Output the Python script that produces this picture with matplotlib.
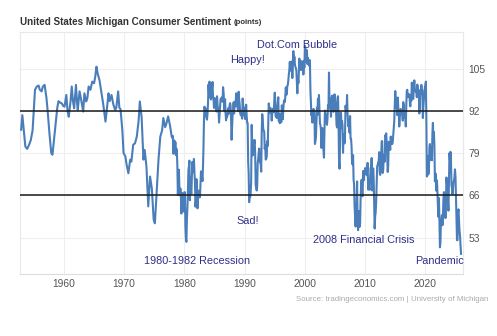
import numpy as np
import matplotlib
matplotlib.use("Agg")
import matplotlib.pyplot as plt

plt.rcParams['font.family'] = ['Liberation Sans', 'DejaVu Sans']

# quarterly readings before 1978 (fractional year, index points)
early_t = [1952.9, 1953.1, 1953.4, 1953.6, 1953.9, 1954.2, 1954.5, 1954.8, 1955.0, 1955.2,
           1955.5, 1955.8, 1956.0, 1956.3, 1956.5, 1956.8, 1957.1, 1957.3, 1957.6, 1957.9,
           1958.1, 1958.4, 1958.6, 1958.9, 1959.1, 1959.4, 1959.6, 1959.9, 1960.1, 1960.4,
           1960.6, 1960.8, 1961.1, 1961.3, 1961.5, 1961.7, 1962.0, 1962.2, 1962.3, 1962.6,
           1962.9, 1963.2, 1963.4, 1963.7, 1963.9, 1964.1, 1964.4, 1964.7, 1965.0, 1965.2,
           1965.4, 1965.6, 1965.9, 1966.2, 1966.5, 1966.9, 1967.1, 1967.4, 1967.6, 1967.9,
           1968.2, 1968.5, 1968.7, 1969.0, 1969.2, 1969.4, 1969.7, 1969.9, 1970.2, 1970.4,
           1970.7, 1971.0, 1971.2, 1971.5, 1971.8, 1972.1, 1972.4, 1972.6, 1972.9, 1973.2,
           1973.4, 1973.7, 1974.0, 1974.3, 1974.6, 1974.9, 1975.1, 1975.4, 1975.7, 1976.0,
           1976.3, 1976.5, 1976.8, 1977.0, 1977.3, 1977.6, 1977.9]
early_v = [86.2, 90.7, 85.0, 81.0, 80.3, 81.5, 83.0, 86.0, 92.0, 98.5,
           99.5, 99.8, 98.5, 98.0, 99.5, 100.0, 96.0, 92.0, 85.0, 79.0,
           78.5, 84.0, 88.0, 93.0, 95.0, 94.5, 94.4, 93.5, 93.3, 96.9,
           92.0, 90.2, 95.0, 99.5, 95.0, 92.8, 100.0, 94.0, 92.3, 98.0,
           95.0, 91.8, 97.4, 94.9, 96.0, 99.5, 98.5, 101.0, 100.5, 102.5,
           105.6, 103.5, 101.5, 98.0, 94.4, 88.7, 92.0, 97.4, 95.0, 96.9,
           94.0, 92.3, 93.0, 98.0, 93.0, 92.5, 86.0, 79.0, 78.0, 75.5,
           72.8, 77.0, 76.4, 81.6, 82.0, 84.1, 89.0, 94.9, 90.0, 77.0,
           80.0, 74.9, 62.6, 71.8, 68.0, 58.5, 57.4, 67.0, 77.0, 84.1,
           86.0, 89.8, 87.0, 88.0, 90.3, 87.6, 84.0]

# monthly readings from Jan 1978
m_1978_1989 = [83.7, 84.3, 78.8, 81.6, 82.9, 80.0, 82.4, 78.4, 80.4, 79.3, 75.0, 66.1,
               72.1, 73.9, 68.4, 66.0, 68.1, 65.8, 60.4, 64.5, 66.7, 62.1, 63.3, 61.0,
               67.0, 66.9, 56.5, 52.7, 51.7, 58.7, 62.3, 67.3, 73.7, 75.0, 76.7, 64.5,
               71.4, 66.9, 66.5, 72.4, 76.3, 73.1, 74.1, 77.2, 73.1, 70.3, 62.5, 64.3,
               71.0, 66.5, 62.0, 65.5, 67.5, 65.7, 65.4, 65.4, 69.3, 73.4, 72.1, 71.9,
               70.4, 74.6, 80.8, 89.1, 93.3, 92.2, 92.8, 90.9, 89.9, 89.3, 91.1, 94.2,
               100.1, 97.4, 101.0, 96.1, 98.1, 95.5, 96.6, 99.1, 100.9, 96.3, 95.7, 92.9,
               96.0, 93.7, 93.7, 94.6, 91.8, 96.5, 94.0, 92.4, 92.1, 88.4, 90.9, 93.9,
               95.6, 95.9, 95.1, 96.2, 94.8, 99.3, 97.7, 94.9, 91.9, 95.6, 91.4, 89.1,
               90.4, 90.2, 90.8, 92.8, 91.1, 91.5, 93.7, 94.4, 93.6, 89.3, 83.1, 86.8,
               90.8, 91.6, 94.6, 91.2, 94.8, 94.7, 93.4, 97.4, 97.3, 94.1, 93.0, 91.9,
               97.9, 95.4, 94.3, 91.5, 90.7, 90.6, 92.0, 89.6, 95.8, 93.9, 90.9, 90.5]
m_1990s = [93.0, 89.5, 91.3, 93.9, 90.6, 88.3, 88.2, 76.4, 72.8, 63.9, 66.0, 65.5,
           66.8, 70.4, 87.7, 81.8, 78.3, 82.1, 82.9, 82.0, 83.0, 78.3, 69.1, 68.2,
           67.5, 68.8, 76.0, 77.2, 79.2, 80.4, 76.6, 76.1, 75.6, 73.3, 85.3, 91.0,
           89.3, 86.6, 85.9, 85.6, 80.3, 81.5, 77.0, 77.3, 77.9, 82.7, 81.2, 88.2,
           94.3, 93.2, 91.5, 92.6, 92.8, 91.2, 89.0, 91.7, 91.5, 92.7, 91.6, 95.1,
           97.6, 95.1, 90.3, 92.5, 89.8, 92.7, 94.4, 96.2, 88.9, 90.2, 88.2, 91.0,
           89.3, 88.5, 93.7, 92.7, 89.4, 92.4, 94.7, 95.3, 94.7, 96.5, 99.2, 96.9,
           97.4, 99.7, 100.0, 101.4, 103.2, 104.5, 107.1, 104.4, 106.0, 105.6, 107.2, 102.1,
           106.6, 110.4, 106.5, 108.7, 106.5, 105.6, 105.2, 104.4, 100.9, 97.4, 102.7, 100.5,
           103.9, 108.1, 105.7, 104.6, 106.8, 107.3, 106.0, 104.5, 107.2, 103.2, 107.2, 105.4]
m_2000s = [112.0, 111.3, 107.1, 109.2, 110.7, 106.4, 108.3, 107.3, 106.8, 105.8, 107.6, 98.4,
           94.7, 90.6, 91.5, 88.4, 92.0, 92.6, 92.4, 91.5, 81.8, 82.7, 83.9, 88.8,
           93.0, 90.7, 95.7, 93.0, 96.9, 92.4, 88.1, 87.6, 86.1, 80.6, 84.2, 86.7,
           82.4, 79.9, 77.6, 86.0, 92.1, 89.7, 90.9, 89.3, 87.7, 89.6, 93.7, 92.6,
           103.8, 94.4, 95.8, 94.2, 90.2, 95.6, 96.7, 95.9, 94.2, 91.7, 92.8, 97.1,
           95.5, 94.1, 92.6, 87.7, 86.9, 96.0, 96.5, 89.1, 76.9, 74.2, 81.6, 91.5,
           91.2, 86.7, 88.9, 87.4, 79.1, 84.9, 84.7, 82.0, 85.4, 93.6, 92.1, 91.7,
           96.9, 91.3, 88.4, 87.1, 88.3, 85.3, 90.4, 83.4, 83.4, 80.9, 76.1, 75.5,
           78.4, 70.8, 69.5, 62.6, 59.8, 56.4, 61.2, 63.0, 70.3, 57.6, 55.3, 60.1,
           61.2, 56.3, 57.3, 65.1, 68.7, 70.8, 66.0, 65.7, 73.5, 70.6, 73.4, 72.5]
m_2010s = [74.4, 73.6, 73.6, 72.2, 73.6, 76.0, 67.8, 68.9, 68.2, 67.7, 71.6, 74.5,
           74.2, 77.5, 67.5, 69.8, 74.3, 71.5, 63.7, 55.8, 59.5, 60.8, 64.1, 69.9,
           75.0, 75.3, 76.2, 76.4, 79.3, 73.2, 72.3, 74.3, 78.3, 82.6, 82.7, 72.9,
           73.8, 77.6, 78.6, 76.4, 84.5, 84.1, 85.1, 82.1, 77.5, 73.2, 75.1, 82.5,
           81.2, 81.6, 80.0, 84.1, 81.9, 82.5, 81.8, 82.5, 84.6, 86.9, 88.8, 93.6,
           98.1, 95.4, 93.0, 95.9, 90.7, 96.1, 93.1, 91.9, 87.2, 90.0, 91.3, 92.6,
           92.0, 91.7, 91.0, 89.0, 94.7, 93.5, 90.0, 89.8, 91.2, 87.2, 93.8, 98.2,
           98.5, 96.3, 96.9, 97.0, 97.1, 95.0, 93.4, 96.8, 95.1, 100.7, 98.5, 95.9,
           95.7, 99.7, 101.4, 98.8, 98.0, 98.2, 97.9, 96.2, 100.1, 98.6, 97.5, 98.3,
           91.2, 93.8, 98.4, 97.2, 100.0, 98.2, 98.4, 89.8, 93.2, 95.5, 96.8, 99.3]
m_2020s = [99.8, 101.0, 89.1, 71.8, 72.3, 78.1, 72.5, 74.1, 80.4, 81.8, 76.9, 80.7,
           79.0, 76.8, 84.9, 88.3, 82.9, 85.5, 81.2, 70.3, 72.8, 71.7, 67.4, 70.6,
           67.2, 62.8, 59.4, 65.2, 58.4, 50.0, 51.5, 58.2, 58.6, 59.9, 56.8, 59.7,
           64.9, 67.0, 62.0, 63.5, 59.0, 64.2, 71.5, 69.4, 67.9, 63.8, 61.3, 69.7,
           79.0, 76.9, 79.4, 77.2, 69.1, 68.2, 66.4, 67.9, 70.1, 70.5, 71.8, 74.0,
           71.7, 64.7, 57.0, 52.2, 52.2, 60.7, 61.7, 58.2, 55.1, 53.6, 51.0, 48.0]

monthly_v = m_1978_1989 + m_1990s + m_2000s + m_2010s + m_2020s
monthly_t = [1978 + i / 12 for i in range(len(monthly_v))]

t = np.array(early_t + monthly_t)
v = np.array(early_v + monthly_v)

x_ticks = [1960, 1970, 1980, 1990, 2000, 2010, 2020]
y_ticks = [53, 66, 79, 92, 105]
ref_lines = [92, 66]

notes = [("Happy!", 1987.6, 107.7),
         ("Dot.Com Bubble", 1992.1, 112.3),
         ("Sad!", 1988.7, 58.2),
         ("1980-1982 Recession", 1973.3, 45.8),
         ("2008 Financial Crisis", 2001.4, 52.3),
         ("Pandemic", 2018.3, 45.8)]

fig = plt.figure(figsize=(4.97, 3.36), dpi=100)
ax = fig.add_axes([0.040, 0.185, 0.892, 0.720])

ax.plot(t, v, color='#4a7ebb', lw=1.5, zorder=3)
for r in ref_lines:
    ax.axhline(r, color='#1a1a1a', lw=1.1, zorder=4)

ax.set_xlim(1952.69, 2026.28)
ax.set_ylim(41.85, 116.3)
ax.set_xticks(x_ticks)
ax.set_yticks(y_ticks)
ax.yaxis.tick_right()
ax.tick_params(axis='both', length=0, labelsize=7.4, colors='#555555', pad=4)
ax.grid(True, color='#eeeeee', lw=0.8)
ax.set_axisbelow(True)
for s in ax.spines.values():
    s.set_color('#e8e8e8')
    s.set_linewidth(0.8)
ax.spines['bottom'].set_color('#dddddd')

for txt, xx, yy in notes:
    ax.text(xx, yy, txt, color='#2e2e8a', fontsize=7.8, va='center', ha='left', zorder=5)

title = fig.text(0.040, 0.935, "United States Michigan Consumer Sentiment", fontsize=7.1,
                 fontweight='bold', color='#333333', va='center')
# unit label sits right after the title
ax.annotate("(points)", xy=(1, 0.45), xycoords=title, xytext=(2, 0),
            textcoords='offset points', fontsize=5.6, fontweight='bold',
            color='#333333', va='center', annotation_clip=False)
fig.text(0.982, 0.110, "Source: tradingeconomics.com | University of Michigan",
         fontsize=5.7, color='#aaaaaa', ha='right', va='center')

fig.savefig('out.png', dpi=100)
